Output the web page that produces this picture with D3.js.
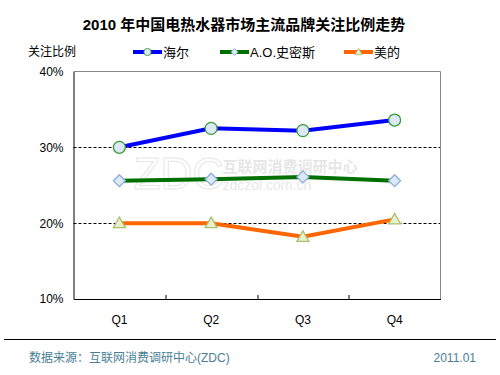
<!DOCTYPE html>
<html>
<head>
<meta charset="utf-8">
<script src="https://cdn.jsdelivr.net/npm/d3@7/dist/d3.min.js"></script>
<style>
  body { margin: 0; background: #fff; }
  svg text { font-family: "Liberation Sans", Arial, "Noto Sans CJK SC", sans-serif; }
</style>
</head>
<body>
<svg width="500" height="375"></svg>
<script>
// data
var quarters = ["Q1", "Q2", "Q3", "Q4"];
var haier = [30.0, 32.5, 32.2, 33.6];
var aoSmith = [25.6, 25.8, 26.1, 25.6];
var midea = [20.0, 20.0, 18.2, 20.5];
var yTicks = [10, 20, 30, 40];

var series = [
  {name: "海尔", values: haier, color: "#0000ff", marker: "circle", mStroke: "#3a9a3a", mFill: "#dde8f5"},
  {name: "A.O.史密斯", values: aoSmith, color: "#007000", marker: "diamond", mStroke: "#8aaedb", mFill: "#dde8f5"},
  {name: "美的", values: midea, color: "#ff6600", marker: "triangle", mStroke: "#a8c070", mFill: "#e8f0cc"}
];

var margin = {top: 71.5, left: 73.5, right: 59.5, bottom: 76},
    width = 500 - margin.left - margin.right,
    height = 375 - margin.top - margin.bottom;

var svg = d3.select("svg");

// title
svg.append("text")
  .attr("x", 244).attr("y", 30)
  .attr("text-anchor", "middle")
  .style("font-size", "15px").style("font-weight", "bold")
  .text("2010 年中国电热水器市场主流品牌关注比例走势");

svg.append("text")
  .attr("x", 28).attr("y", 56)
  .style("font-size", "12px")
  .text("关注比例");

var g = svg.append("g")
  .attr("transform", "translate(" + margin.left + "," + margin.top + ")");

var x = d3.scaleBand().domain(quarters).range([0, width]);
var y = d3.scaleLinear().domain([10, 40]).range([height, 0]);

// watermark
var wm = g.append("g").attr("opacity", 0.2).attr("fill", "#888");
wm.append("text").attr("x", 60).attr("y", 117)
  .style("font-size", "44px")
  .attr("fill", "none").attr("stroke", "#888").attr("stroke-width", 1)
  .text("ZDC");
wm.append("text").attr("x", 149).attr("y", 100)
  .style("font-size", "15px").style("font-weight", "bold")
  .text("互联网消费调研中心");
wm.append("text").attr("x", 149).attr("y", 118)
  .style("font-size", "14px")
  .text("zdczol.com.cn");

// dashed gridlines
g.selectAll(".grid")
  .data([20, 30])
  .enter().append("line")
  .attr("x1", 0).attr("x2", width)
  .attr("y1", function(d) { return Math.round(y(d)) + 0.5 - margin.top % 1; })
  .attr("y2", function(d) { return Math.round(y(d)) + 0.5 - margin.top % 1; })
  .attr("stroke", "#000").attr("stroke-dasharray", "3,2");

// top & right border (grey)
g.append("path")
  .attr("d", "M0,0H" + width + "V" + height)
  .attr("fill", "none").attr("stroke", "#888");

// y axis
var yAxis = g.append("g")
  .call(d3.axisLeft(y).tickValues(yTicks).tickSize(0).tickFormat(function(d) { return d + "%"; }));
yAxis.select(".domain").attr("stroke", "#000");
yAxis.selectAll("text").attr("x", -10).style("font-size", "12px").attr("fill", "#000");

// x axis
var xAxis = g.append("g")
  .attr("transform", "translate(0," + height + ")")
  .call(d3.axisBottom(x).tickSize(0));
xAxis.select(".domain").attr("stroke", "#000");
xAxis.selectAll("text").attr("dy", "1.8em").style("font-size", "12px").attr("fill", "#000");
g.selectAll(".xtick")
  .data(quarters.slice(1))
  .enter().append("line")
  .attr("x1", function(d) { return Math.round(x(d)) + 0.5; })
  .attr("x2", function(d) { return Math.round(x(d)) + 0.5; })
  .attr("y1", height).attr("y2", height - 4)
  .attr("stroke", "#000");

var line = d3.line()
  .x(function(d, i) { return x(quarters[i]) + x.bandwidth() / 2; })
  .y(function(d) { return y(d); });

function marker(sel, type) {
  if (type === "circle") {
    sel.append("circle").attr("r", 6);
  } else if (type === "diamond") {
    sel.append("path").attr("d", "M0,-6L6,0L0,6L-6,0Z");
  } else {
    sel.append("path").attr("d", "M0,-6L6,4.5L-6,4.5Z");
  }
}

series.forEach(function(s) {
  g.append("path")
    .datum(s.values)
    .attr("d", line)
    .attr("fill", "none")
    .attr("stroke", s.color)
    .attr("stroke-width", 4);

  g.selectAll(null)
    .data(s.values)
    .enter().append("g")
    .attr("transform", function(d, i) {
      return "translate(" + (x(quarters[i]) + x.bandwidth() / 2) + "," + y(d) + ")";
    })
    .each(function() {
      var m = d3.select(this);
      marker(m, s.marker);
      m.selectAll("*").attr("fill", s.mFill).attr("stroke", s.mStroke).attr("stroke-width", 1.3);
    });
});

// legend
var legendX = [133, 220, 344];
series.forEach(function(s, i) {
  var lg = svg.append("g").attr("transform", "translate(" + legendX[i] + ",52)");
  lg.append("line").attr("x1", 0).attr("x2", 29)
    .attr("stroke", s.color).attr("stroke-width", 4);
  var m = lg.append("g").attr("transform", "translate(14.5,0) scale(0.6)");
  marker(m, s.marker);
  m.selectAll("*").attr("fill", s.mFill).attr("stroke", s.mStroke).attr("stroke-width", 1.5);
  lg.append("text").attr("x", 30).attr("y", 5)
    .style("font-size", "13px").text(s.name);
});

// footer
svg.append("line")
  .attr("x1", 4).attr("x2", 496).attr("y1", 339.5).attr("y2", 339.5)
  .attr("stroke", "#000");
svg.append("text")
  .attr("x", 29).attr("y", 362)
  .attr("fill", "#4a7f96").style("font-size", "12px")
  .text("数据来源：互联网消费调研中心(ZDC)");
svg.append("text")
  .attr("x", 476).attr("y", 362)
  .attr("text-anchor", "end")
  .attr("fill", "#4a7f96").style("font-size", "12px")
  .text("2011.01");
</script>
</body>
</html>
